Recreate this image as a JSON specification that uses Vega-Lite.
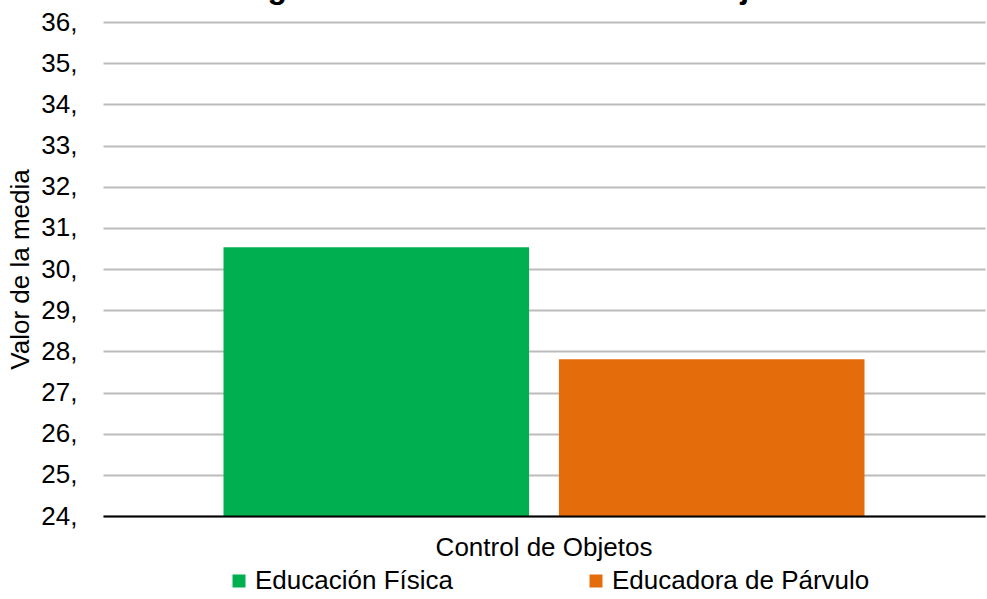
{
  "$schema": "https://vega.github.io/schema/vega-lite/v6.json",
  "width": 882,
  "height": 494,
  "autosize": {"type": "none"},
  "padding": {"left": 103, "top": 22, "right": 2, "bottom": 83},
  "background": "white",
  "title": {
    "text": "Figura 4. Media de Control de Objetos",
    "font": "Liberation Sans",
    "fontSize": 32,
    "fontWeight": "bold",
    "color": "black",
    "anchor": "middle",
    "baseline": "alphabetic",
    "offset": 5,
    "dy": 26,
    "dx": -17
  },
  "data": {
    "values": [
      {"categoria": "Control de Objetos", "grupo": "Educación Física", "media": 30.53},
      {"categoria": "Control de Objetos", "grupo": "Educadora de Párvulo", "media": 27.81}
    ]
  },
  "mark": {"type": "bar"},
  "encoding": {
    "x": {
      "field": "categoria",
      "type": "nominal",
      "scale": {"paddingInner": 0, "paddingOuter": 0.188},
      "axis": {
        "title": null,
        "labelAngle": 0,
        "labelFont": "Liberation Sans",
        "labelFontSize": 26,
        "labelColor": "black",
        "labelPadding": 18,
        "labelLimit": 500,
        "ticks": false,
        "domain": true,
        "domainColor": "black",
        "domainWidth": 2,
        "zindex": 1
      }
    },
    "xOffset": {
      "field": "grupo",
      "type": "nominal",
      "scale": {"paddingInner": 0.089, "paddingOuter": 0}
    },
    "y": {
      "field": "media",
      "type": "quantitative",
      "scale": {"domain": [24, 36], "zero": false, "nice": false},
      "axis": {
        "title": "Valor de la media",
        "titleFont": "Liberation Sans",
        "titleFontSize": 26,
        "titleFontWeight": "normal",
        "titleColor": "black",
        "titlePadding": 7,
        "values": [24, 25, 26, 27, 28, 29, 30, 31, 32, 33, 34, 35, 36],
        "labelExpr": "datum.label + ','",
        "labelFont": "Liberation Sans",
        "labelFontSize": 26,
        "labelColor": "black",
        "labelPadding": 26,
        "ticks": false,
        "domain": false,
        "grid": true,
        "gridColor": "#bcbcbc",
        "gridWidth": 2
      }
    },
    "y2": {"datum": 24},
    "color": {
      "field": "grupo",
      "type": "nominal",
      "scale": {
        "domain": ["Educación Física", "Educadora de Párvulo"],
        "range": ["#00B050", "#E46C0A"]
      },
      "legend": {
        "title": null,
        "orient": "none",
        "legendX": 123,
        "legendY": 546,
        "direction": "horizontal",
        "columns": 2,
        "columnPadding": 130,
        "symbolType": "square",
        "symbolSize": 169,
        "symbolStrokeWidth": 0,
        "symbolOpacity": 1,
        "labelFont": "Liberation Sans",
        "labelFontSize": 26,
        "labelColor": "black",
        "labelOffset": 3,
        "labelLimit": 400
      }
    }
  },
  "config": {
    "view": {"stroke": null}
  }
}
